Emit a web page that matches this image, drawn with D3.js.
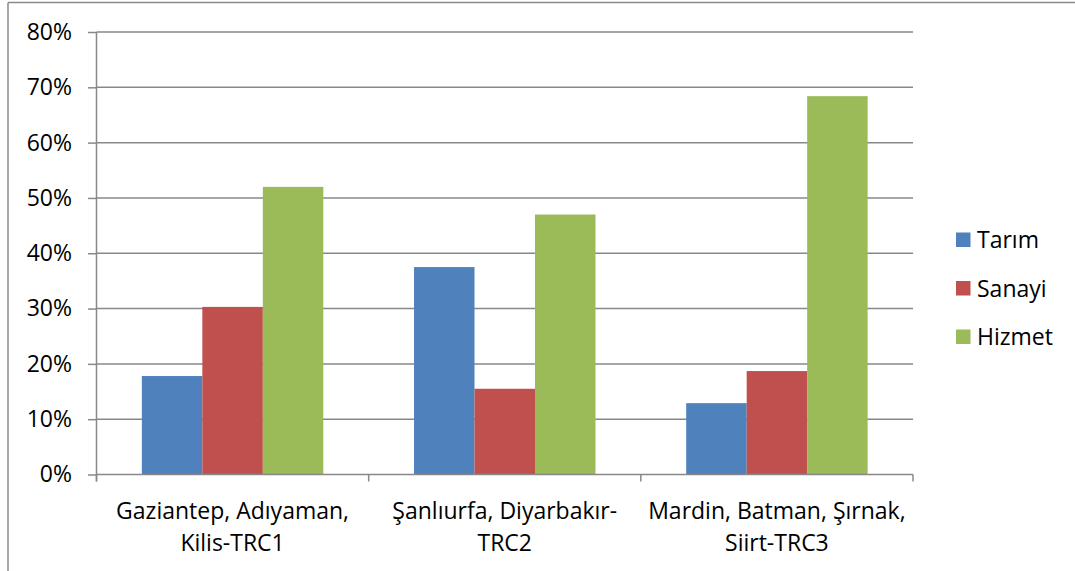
<!DOCTYPE html>
<html>
<head>
<meta charset="utf-8">
<script src="https://cdn.jsdelivr.net/npm/d3@7"></script>
<style>
  html, body { margin: 0; padding: 0; background: #fff; }
  svg { display: block; font-family: "Open Sans", "Lato", sans-serif; }
</style>
</head>
<body>
<svg id="chart" width="1075" height="571"></svg>
<script>
const categories = [["Gaziantep, Adıyaman,", "Kilis-TRC1"], ["Şanlıurfa, Diyarbakır-", "TRC2"], ["Mardin, Batman, Şırnak,", "Siirt-TRC3"]];
const seriesNames = ["Tarım", "Sanayi", "Hizmet"];
const tarim = [0.178, 0.375, 0.129];
const sanayi = [0.303, 0.155, 0.187];
const hizmet = [0.520, 0.470, 0.684];
const yTicks = [0, 0.1, 0.2, 0.3, 0.4, 0.5, 0.6, 0.7, 0.8];

const seriesValues = [tarim, sanayi, hizmet];
const colors = ["#4F81BD", "#C0504D", "#9BBB59"];
const gridColor = "#888888";
const fontSize = 23;

const svg = d3.select("#chart");
const plotLeft = 96.5, plotRight = 913, plotTop = 32, plotBottom = 474.5;

// outer border (top & left only visible)
svg.append("line").attr("x1", 8).attr("x2", 1075).attr("y1", 2.5).attr("y2", 2.5)
  .attr("stroke", "#8a8a8a").attr("stroke-width", 1.5);
svg.append("line").attr("x1", 8).attr("x2", 8).attr("y1", 2.5).attr("y2", 571)
  .attr("stroke", "#8a8a8a").attr("stroke-width", 1.5);

const x0 = d3.scaleBand().domain(d3.range(categories.length)).range([plotLeft, plotRight]).paddingInner(0).paddingOuter(0);
const x1 = d3.scaleBand().domain(d3.range(seriesNames.length)).range([0, x0.bandwidth()]).paddingOuter(0.75).paddingInner(0);
const y = d3.scaleLinear().domain([0, 0.8]).range([plotBottom, plotTop]);

// gridlines
svg.append("g").selectAll("line").data(yTicks.slice(1)).join("line")
  .attr("x1", plotLeft).attr("x2", plotRight)
  .attr("y1", d => y(d)).attr("y2", d => y(d))
  .attr("stroke", gridColor).attr("stroke-width", 1.5);

// bars
const groups = svg.append("g").selectAll("g").data(categories).join("g")
  .attr("transform", (d, i) => `translate(${x0(i)},0)`);
groups.selectAll("rect").data((d, i) => seriesValues.map((s, j) => ({ j, v: s[i] }))).join("rect")
  .attr("x", d => x1(d.j)).attr("width", x1.bandwidth())
  .attr("y", d => y(d.v)).attr("height", d => y(0) - y(d.v))
  .attr("fill", d => colors[d.j]);

// y axis
const yAxis = d3.axisLeft(y).tickValues(yTicks).tickFormat(d3.format(".0%")).tickSize(8.5).tickPadding(16);
const yg = svg.append("g").attr("transform", `translate(${plotLeft},0)`).call(yAxis);
yg.select(".domain").remove();
yg.selectAll(".tick line").attr("stroke", gridColor).attr("stroke-width", 1.5);
yg.selectAll(".tick text").attr("font-size", fontSize).attr("fill", "#000").attr("font-family", "Open Sans");
svg.append("line").attr("x1", plotLeft).attr("x2", plotLeft).attr("y1", plotTop).attr("y2", plotBottom + 7)
  .attr("stroke", gridColor).attr("stroke-width", 1.5);

// x axis baseline & ticks
svg.append("line").attr("x1", plotLeft).attr("x2", plotRight).attr("y1", plotBottom).attr("y2", plotBottom)
  .attr("stroke", gridColor).attr("stroke-width", 1.5);
const bounds = d3.range(categories.length + 1).map(i => i < categories.length ? x0(i) : plotRight);
svg.append("g").selectAll("line").data(bounds).join("line")
  .attr("x1", d => d).attr("x2", d => d).attr("y1", plotBottom).attr("y2", plotBottom + 7)
  .attr("stroke", gridColor).attr("stroke-width", 1.5);

// category labels
const labels = svg.append("g").selectAll("text").data(categories).join("text")
  .attr("text-anchor", "middle").attr("font-size", fontSize).attr("fill", "#000");
labels.selectAll("tspan").data((d, i) => d.map(t => ({ t, i }))).join("tspan")
  .attr("x", d => x0(d.i) + x0.bandwidth() / 2)
  .attr("y", (d, k) => 519 + k * 32)
  .text(d => d.t);

// legend
const legend = svg.append("g").selectAll("g").data(seriesNames).join("g")
  .attr("transform", (d, i) => `translate(956,${232.5 + i * 48.5})`);
legend.append("rect").attr("width", 14.5).attr("height", 14.5).attr("fill", (d, i) => colors[i]);
legend.append("text").attr("x", 21).attr("y", 15.5).attr("font-size", fontSize).attr("fill", "#000").text(d => d);
</script>
</body>
</html>
